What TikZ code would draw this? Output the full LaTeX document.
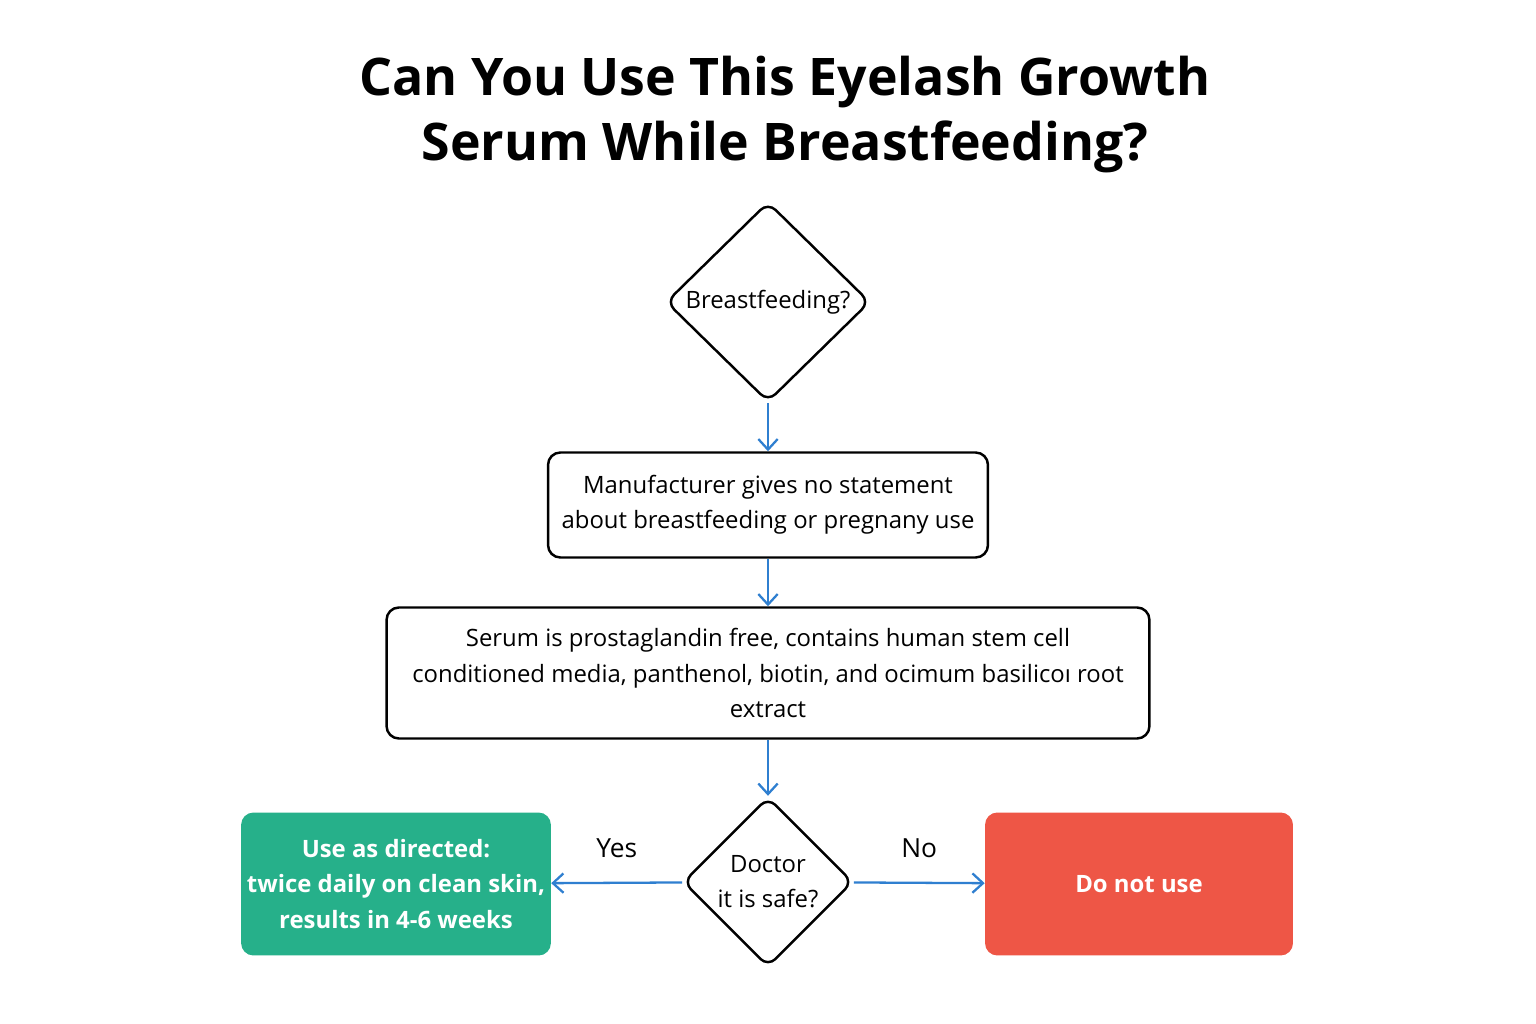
\documentclass[tikz,border=0pt]{standalone}
\usepackage{fontspec}
\setmainfont{Open Sans}
\usetikzlibrary{shapes.geometric,arrows.meta,positioning}
\definecolor{flowblue}{HTML}{2F7FD0}
\definecolor{yesgreen}{HTML}{26B08A}
\definecolor{nored}{HTML}{EE5646}
\tikzset{
  stage/.style={draw,line width=1.4pt,rounded corners=7pt,align=center,font=\fontsize{13.6}{20}\selectfont},
  check/.style={draw,diamond,line width=1.4pt,rounded corners=6pt,align=center,inner sep=0pt,font=\fontsize{13.6}{20}\selectfont},
  outcome/.style={rounded corners=7pt,align=center,text=white,font=\fontsize{13.6}{20}\selectfont\bfseries,minimum width=6.16cm,minimum height=2.86cm},
  flow/.style={-{Straight Barb[length=6pt,width=11pt]},flowblue,line width=1.3pt}
}
\begin{document}
\begin{tikzpicture}[x=0.02cm,y=-0.02cm]
\useasboundingbox[fill=white] (0,0) rectangle (1536,1024);
% title
\node[font=\fontsize{29.5}{37}\selectfont\bfseries,align=center] (title) at (785,115)
  {Can You Use This Eyelash Growth\\Serum While Breastfeeding?};
% stages
\node[check,minimum width=4.08cm,minimum height=4cm] (feed) at (768,302) {Breastfeeding?};
\node[stage,minimum width=8.8cm,minimum height=2.1cm] (maker) at (768,505)
  {Manufacturer gives no statement\\about breastfeeding or pregnany use};
\node[stage,minimum width=15.26cm,minimum height=2.62cm] (serum) at (768,673)
  {Serum is prostaglandin free, contains human stem cell\\conditioned media, panthenol, biotin, and ocimum basilicoı root\\extract};
\node[check,minimum width=3.4cm,minimum height=3.4cm] (doctor) at (768,882) {Doctor\\it is safe?};
% outcomes
\node[outcome,fill=yesgreen] (yes) at (396,884)
  {Use as directed:\\twice daily on clean skin,\\results in 4-6 weeks};
\node[outcome,fill=nored] (no) at (1139,884) {Do not use};
% connectors
\draw[flow] (feed) -- (maker);
\draw[flow] (maker) -- (serum);
\draw[flow] (serum) -- (doctor);
\draw[flow] (doctor) -- node[above=10pt,text=black,font=\fontsize{15}{16}\selectfont] {Yes} (yes);
\draw[flow] (doctor) -- node[above=10pt,text=black,font=\fontsize{15}{16}\selectfont] {No} (no);
\end{tikzpicture}
\end{document}
